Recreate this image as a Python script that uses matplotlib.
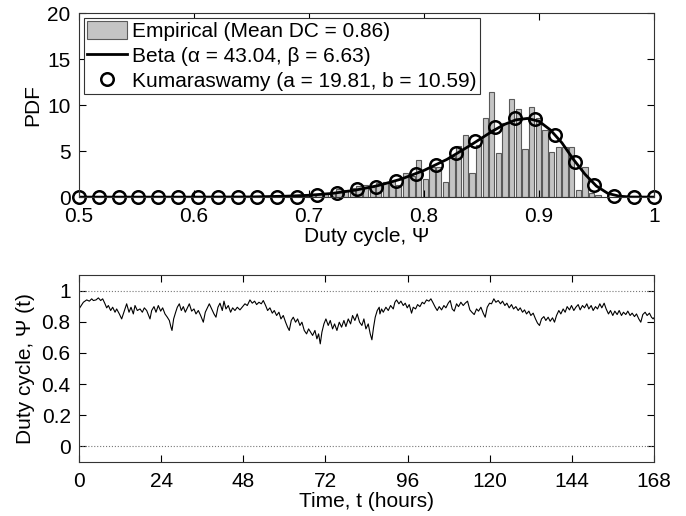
import numpy as np
import matplotlib
matplotlib.use('Agg')
import matplotlib.pyplot as plt

plt.rcParams['font.family'] = ['Liberation Sans', 'DejaVu Sans']
plt.rcParams['font.size'] = 15

# histograma empirico (centro do primeiro bin, largura do bin, alturas)
bin_first = 0.6914
bin_w = 0.00578
emp_pdf = [0.1, 0.1, 0.3, 0.3, 0.5, 0.6, 0.9, 0.8, 1.0, 1.2,
           1.3, 1.1, 1.5, 1.6, 1.8, 1.3, 2.6, 2.3, 4.0, 2.0,
           3.3, 3.3, 1.6, 4.5, 5.6, 6.7, 2.6, 5.7, 8.6, 11.4,
           4.8, 8.1, 10.7, 9.6, 5.2, 9.8, 8.6, 7.3, 4.9, 5.5,
           5.5, 5.5, 0.8, 3.3, 0.5, 0.2]

# curva Beta
beta_x = [0.50, 0.60, 0.65, 0.68, 0.70, 0.72, 0.74, 0.76, 0.78, 0.80,
          0.82, 0.84, 0.85, 0.86, 0.87, 0.88, 0.89, 0.90, 0.91, 0.92,
          0.93, 0.94, 0.95, 0.96, 0.97, 0.98, 1.00]
beta_y = [0.0, 0.0, 0.02, 0.1, 0.2, 0.4, 0.75, 1.25, 1.95, 2.9,
          4.1, 5.6, 6.4, 7.2, 7.9, 8.4, 8.55, 8.25, 7.3, 5.9,
          4.1, 2.5, 1.2, 0.4, 0.1, 0.01, 0.0]

# Kumaraswamy (30 pontos de 0.5 a 1)
kuma_x = np.linspace(0.5, 1.0, 30)
kuma_y = [0, 0, 0, 0, 0, 0, 0, 0, 0, 0,
          0, 0.05, 0.25, 0.5, 0.85, 1.15, 1.7, 2.5, 3.5, 4.75,
          6.1, 7.65, 8.65, 8.45, 6.7, 3.8, 1.3, 0.15, 0.0, 0.0]

# serie temporal do duty cycle
t_hours = [
    0.0, 1.27, 2.24, 3.02, 3.70, 4.19, 4.97, 5.65, 6.33, 6.91,
    7.59, 8.08, 8.57, 9.25, 9.83, 10.52, 11.0, 11.78, 12.46, 13.44,
    13.92, 14.61, 15.19, 15.87, 16.36, 17.04, 17.82, 18.5, 19.08, 19.77,
    20.35, 20.74, 21.23, 21.91, 22.49, 23.17, 23.86, 24.44, 25.12, 25.8,
    26.39, 26.87, 27.17, 27.65, 28.24, 28.72, 29.31, 29.89, 30.48, 31.06,
    31.65, 32.23, 32.91, 33.59, 34.18, 34.86, 35.54, 36.32, 36.9, 37.49,
    38.07, 38.75, 39.44, 40.02, 40.6, 41.19, 41.87, 42.36, 42.94, 43.62,
    44.3, 44.89, 45.57, 46.25, 47.03, 47.81, 48.49, 49.17, 49.95, 50.63,
    51.31, 51.9, 52.58, 53.26, 53.85, 54.53, 55.11, 55.79, 56.48, 57.06,
    57.74, 58.42, 59.01, 59.69, 60.37, 60.95, 61.44, 62.02, 62.61, 63.29,
    63.88, 64.56, 65.14, 65.82, 66.5, 67.09, 67.67, 68.26, 68.94, 69.52,
    70.01, 70.5, 70.98, 71.57, 72.15, 72.83, 73.42, 74.1, 74.68, 75.37,
    76.05, 76.73, 77.41, 77.99, 78.68, 79.36, 79.94, 80.62, 81.3, 81.99,
    82.67, 83.25, 83.84, 84.52, 85.1, 85.59, 86.08, 86.56, 87.15, 87.73,
    87.93, 88.42, 88.91, 89.68, 90.37, 91.05, 91.83, 92.31, 92.8, 93.48,
    94.07, 94.75, 95.33, 95.92, 96.5, 97.18, 97.67, 98.35, 98.94, 99.62,
    100.3, 100.88, 101.56, 102.25, 102.83, 103.51, 104.1, 104.68, 105.26, 105.95,
    106.63, 107.21, 107.89, 108.48, 109.06, 109.65, 110.33, 110.91, 111.59, 112.28,
    112.86, 113.54, 114.22, 114.81, 115.49, 116.17, 116.75, 117.44, 118.12, 118.7,
    119.29, 119.97, 120.55, 121.23, 121.82, 122.5, 123.18, 123.76, 124.45, 125.03,
    125.71, 126.39, 126.98, 127.66, 128.34, 128.93, 129.61, 130.19, 130.78, 131.46,
    132.04, 132.72, 133.4, 133.99, 134.57, 135.16, 135.84, 136.42, 137.1, 137.69,
    138.37, 138.95, 139.54, 140.22, 140.8, 141.49, 142.07, 142.65, 143.34, 143.92,
    144.6, 145.19, 145.87, 146.45, 147.13, 147.72, 148.4, 148.98, 149.67, 150.25,
    150.93, 151.52, 152.2, 152.78, 153.46, 154.05, 154.73, 155.31, 155.99, 156.58,
    157.26, 157.85, 158.53, 159.11, 159.79, 160.38, 161.06, 161.64, 162.32, 162.91,
    163.59, 164.17, 164.76, 165.44, 166.02, 166.7, 167.29, 167.78, 168.0]
duty = [
    0.882, 0.925, 0.940, 0.932, 0.947, 0.936, 0.940, 0.953, 0.936, 0.947,
    0.915, 0.889, 0.904, 0.872, 0.893, 0.861, 0.882, 0.850, 0.818, 0.882,
    0.915, 0.861, 0.893, 0.850, 0.904, 0.872, 0.882, 0.861, 0.889, 0.872,
    0.840, 0.818, 0.872, 0.897, 0.861, 0.904, 0.868, 0.889, 0.850, 0.829,
    0.808, 0.765, 0.744, 0.818, 0.861, 0.893, 0.915, 0.872, 0.897, 0.861,
    0.889, 0.915, 0.868, 0.882, 0.850, 0.872, 0.840, 0.797, 0.861, 0.889,
    0.915, 0.882, 0.850, 0.829, 0.893, 0.919, 0.872, 0.932, 0.882, 0.904,
    0.861, 0.889, 0.872, 0.893, 0.876, 0.897, 0.915, 0.904, 0.940, 0.919,
    0.932, 0.910, 0.925, 0.915, 0.936, 0.904, 0.872, 0.889, 0.855, 0.872,
    0.840, 0.861, 0.818, 0.840, 0.797, 0.765, 0.744, 0.808, 0.829, 0.797,
    0.818, 0.776, 0.797, 0.744, 0.722, 0.754, 0.733, 0.712, 0.744, 0.690,
    0.722, 0.658, 0.733, 0.786, 0.818, 0.776, 0.808, 0.754, 0.786, 0.744,
    0.797, 0.765, 0.808, 0.769, 0.818, 0.786, 0.840, 0.808, 0.850, 0.797,
    0.776, 0.818, 0.754, 0.786, 0.722, 0.684, 0.765, 0.829, 0.872, 0.893,
    0.850, 0.882, 0.861, 0.893, 0.872, 0.904, 0.882, 0.925, 0.940, 0.915,
    0.932, 0.904, 0.919, 0.889, 0.910, 0.855, 0.893, 0.882, 0.910, 0.897,
    0.925, 0.915, 0.940, 0.932, 0.947, 0.919, 0.893, 0.872, 0.897, 0.876,
    0.904, 0.889, 0.919, 0.936, 0.882, 0.868, 0.915, 0.897, 0.925, 0.904,
    0.919, 0.932, 0.876, 0.861, 0.846, 0.882, 0.868, 0.893, 0.855, 0.829,
    0.893, 0.919, 0.915, 0.947, 0.925, 0.936, 0.915, 0.932, 0.904, 0.919,
    0.889, 0.910, 0.882, 0.897, 0.872, 0.889, 0.861, 0.876, 0.850, 0.868,
    0.840, 0.855, 0.818, 0.791, 0.776, 0.818, 0.833, 0.808, 0.829, 0.803,
    0.825, 0.797, 0.840, 0.872, 0.850, 0.882, 0.861, 0.897, 0.876, 0.904,
    0.872, 0.893, 0.910, 0.876, 0.904, 0.889, 0.915, 0.882, 0.904, 0.872,
    0.897, 0.882, 0.915, 0.889, 0.919, 0.882, 0.850, 0.872, 0.840, 0.868,
    0.846, 0.872, 0.840, 0.861, 0.846, 0.868, 0.840, 0.855, 0.833, 0.850,
    0.818, 0.797, 0.846, 0.861, 0.840, 0.855, 0.829, 0.818, 0.825]

fig = plt.figure(figsize=(6.86, 5.16), dpi=100)
ax1 = fig.add_axes([0.1152, 0.618, 0.838, 0.3566])
ax2 = fig.add_axes([0.1152, 0.1047, 0.838, 0.3624])

# --- painel de cima: PDF
centros = bin_first + np.arange(len(emp_pdf)) * bin_w
barras = ax1.bar(centros, emp_pdf, width=0.8 * bin_w, color='#c4c4c4',
                 edgecolor='#5a5a5a', linewidth=0.8)
linha_beta, = ax1.plot(beta_x, beta_y, color='black', lw=2.0)
pts_kuma, = ax1.plot(kuma_x, kuma_y, 'o', ms=9, mfc='none', mec='black', mew=1.8,
                     clip_on=False)
ax1.set_xlim(0.5, 1.0)
ax1.set_ylim(0, 20)
ax1.set_xticks([0.5, 0.6, 0.7, 0.8, 0.9, 1.0])
ax1.set_xticklabels(['0.5', '0.6', '0.7', '0.8', '0.9', '1'])
ax1.set_yticks([0, 5, 10, 15, 20])
ax1.set_xlabel('Duty cycle, \u03a8', labelpad=1)
ax1.set_ylabel('PDF', labelpad=4)
leg = ax1.legend([barras, linha_beta, pts_kuma],
                 ['Empirical (Mean DC = 0.86)',
                  'Beta (\u03b1 = 43.04, \u03b2 = 6.63)',
                  'Kumaraswamy (a = 19.81, b = 10.59)'],
                 loc='upper left', fontsize=15, frameon=True, fancybox=False,
                 edgecolor='#333333', framealpha=1, borderpad=0.15, labelspacing=0.25,
                 handlelength=1.9, handletextpad=0.25, borderaxespad=0.25,
                 handleheight=0.9)
leg.get_frame().set_linewidth(0.8)

# --- painel de baixo: serie temporal
ax2.axhline(1, color='#777777', ls=':', lw=0.8)
ax2.axhline(0, color='#777777', ls=':', lw=0.8)
ax2.plot(t_hours, duty, color='black', lw=0.8)
ax2.set_xlim(0, 168)
ax2.set_ylim(-0.1, 1.1)
ax2.set_xticks(range(0, 169, 24))
ax2.set_yticks([0, 0.2, 0.4, 0.6, 0.8, 1.0])
ax2.set_yticklabels(['0', '0.2', '0.4', '0.6', '0.8', '1'])
ax2.set_xlabel('Time, t (hours)', labelpad=1)
ax2.set_ylabel('Duty cycle, \u03a8 (t)', labelpad=5)

for ax in (ax1, ax2):
    ax.tick_params(direction='in', top=True, right=True, length=5, width=0.8)
    ax.tick_params(axis='x', pad=7)
    ax.tick_params(axis='y', pad=6)
    for s in ax.spines.values():
        s.set_linewidth(0.8)
        s.set_color('#333333')

fig.savefig('out.png', dpi=100)
